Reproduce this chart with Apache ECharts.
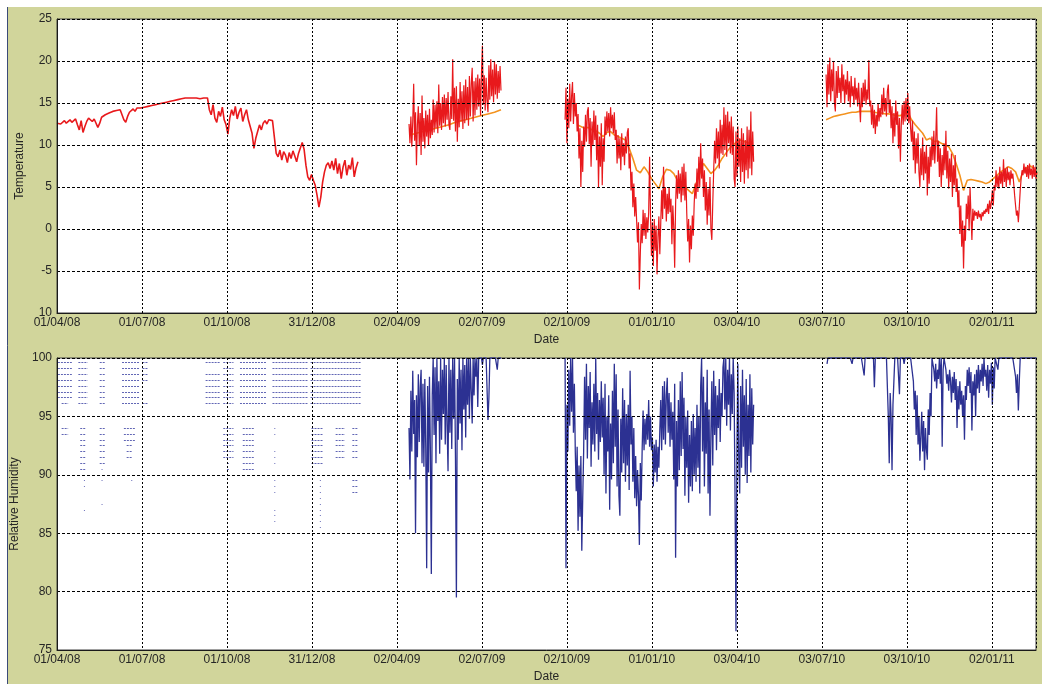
<!DOCTYPE html>
<html>
<head>
<meta charset="utf-8">
<script src="https://cdn.jsdelivr.net/npm/echarts@6/dist/echarts.min.js"></script>
<style>
  html, body { margin: 0; padding: 0; background: #ffffff; }
  #chart { width: 1042px; height: 684px; }
</style>
</head>
<body>
<div id="chart"></div>
<script>
// ---- Axis tick labels ----
// x values are days counted from 01/04/08; a tick every 91.5 days
const xTickLabels = ['01/04/08', '01/07/08', '01/10/08', '31/12/08', '02/04/09', '02/07/09',
                     '02/10/09', '01/01/10', '03/04/10', '03/07/10', '03/10/10', '02/01/11'];
const tempTickLabels = ['10', '-5', '0', '5', '10', '15', '20', '25'];
const rhTickLabels = ['75', '80', '85', '90', '95', '100'];

// ---- Temperature, logger record (red) ----
const tempRed1Start = 0, tempRed1Step = 2;
const tempRed1 = [12.6,12.8,12.5,12.7,12.9,12.6,12.8,13.0,12.7,12.9,13.1,
  12.4,11.8,12.9,11.5,12.2,12.8,13.2,
  13.0,12.8,13.1,12.9,12.1,12.6,13.3,
  13.4,13.6,13.5,13.8,13.9,14.0,13.8,14.1,14.0,14.2,14.3,
  13.0,12.7,13.4,13.9,14.1,14.3,14.0,14.4,14.2,14.4,
  14.5,14.5,14.6,14.6,14.7,14.7,14.8,14.8,14.9,14.9,15.0,15.0,15.1,15.1,15.2,15.2,15.3,
  15.3,15.4,15.4,15.5,15.5,15.5,15.6,15.6,15.6,15.6,15.6,15.5,15.6,15.6,15.5,15.6,15.6,15.5,15.6,
  14.2,13.6,14.8,13.2,12.7,14.0,13.4,14.5,13.0,12.4,11.3,13.2,
  14.2,13.5,14.6,13.1,13.9,14.4,12.8,13.6,14.2,13.0,12.2,11.4,
  9.6,10.8,11.6,12.4,11.8,12.6,12.9,12.5,13.0,12.8,12.9,12.7,
  9.0,8.6,9.4,8.2,9.2,8.8,7.9,9.1,8.4,9.3,8.7,8.0,9.0,9.2,
  10.3,9.5,7.6,6.2,5.8,6.5,5.8,5.2,4.0,2.6,3.8,5.6,6.8,7.6,7.9,7.2,8.1,
  7.0,8.4,6.6,7.8,6.0,7.4,8.2,6.4,7.6,7.1,8.5,6.2,7.3,8.0];

const tempRed2Start = 379, tempRed2Step = 1;
const tempRed2 = [12.5,10.2,13.4,9.8,12.8,17.3,10.5,13.9,7.6,12.4,
  14.6,9.9,13.8,8.8,15.9,10.4,13.2,9.6,14.1,11.0,
  13.6,9.9,14.3,10.8,13.0,11.2,15.4,11.5,14.8,12.0,
  15.2,11.4,17.2,12.3,15.0,11.8,15.7,12.6,16.0,12.2,
  15.6,13.0,16.3,12.4,11.8,15.8,13.1,20.2,12.9,16.8,
  11.6,17.0,10.4,15.5,12.1,17.5,12.8,16.4,11.9,17.1,
  12.6,17.8,13.0,16.9,12.3,18.2,13.4,17.3,19.2,12.8,
  17.6,13.5,18.0,14.2,18.4,14.6,17.9,13.5,18.6,21.8,
  14.8,18.3,14.1,18.0,15.2,13.9,19.5,15.4,20.2,15.8,
  19.0,15.1,20.0,16.0,19.6,15.5,18.8,16.2,19.4,16.5];

const tempRed3Start = 547, tempRed3Step = 1;
const tempRed3 = [13.0,16.8,10.2,15.5,12.0,17.3,12.8,15.8,17.5,12.5,
  16.2,13.4,15.0,11.6,13.7,8.4,12.0,5.0,10.5,6.8,
  12.2,9.8,13.6,10.4,14.0,14.5,10.1,13.2,7.4,12.8,
  9.9,14.1,10.6,13.5,8.2,12.4,5.0,11.0,7.4,12.6,
  5.2,10.8,8.0,13.4,11.2,14.0,11.6,13.8,11.0,14.5,
  12.0,13.6,11.4,13.9,10.6,11.8,7.8,11.2,8.4,10.8,
  7.0,11.4,8.6,10.2,7.6,11.0,9.0,11.5,12.0,7.2,
  9.0,4.6,6.8,2.6,5.4,1.5,3.8,1.1,-1.6,0.8,
  -7.2,-2.9,0.6,-1.7,2.3,-0.8,1.9,-1.2,1.4,-0.4,
  2.0,8.6,1.5,-3.2,0.8,-4.4,1.2,-2.6,0.4,-5.4,
  -1.0,1.5,-3.0,0.7,4.6,1.2,7.4,2.4,5.0,0.9,
  4.2,1.8,5.0,2.0,3.6,-1.8,2.8,0.2,-4.6,3.0,
  6.4,3.6,7.0,4.2,6.6,3.2,7.4,4.0,7.8,3.4,
  6.8,1.9,-1.5,1.2,-4.0,0.4,-2.4,1.6,-0.8,3.0,
  5.4,3.6,7.2,4.4,8.6,5.0,10.2,6.0,8.4,3.8,
  7.0,2.2,5.6,0.5,4.8,1.6,6.2,0.0,-1.3,3.0,
  7.0,10.5,7.8,12.0,8.4,11.6,7.2,13.0,9.0,12.4,
  8.8,14.5,9.4,13.6,8.6,14.0,10.2,12.8,9.0,13.4,
  8.8,12.2,6.0,5.0,11.6,6.2,12.2,7.4,10.8,5.6,
  12.0,6.8,11.4,5.4,10.6,7.0,12.2,6.0,11.8,7.2,
  14.0,6.4,11.6,8.0];

const tempRed4Start = 828, tempRed4Step = 1;
const tempRed4 = [18.4,14.5,19.6,16.0,20.4,15.2,19.0,16.4,20.0,15.0,
  14.0,18.8,15.6,19.4,16.2,18.0,15.0,19.6,16.4,18.4,
  14.9,17.8,16.0,18.8,15.2,17.6,14.5,18.2,15.8,17.0,
  14.8,18.0,15.4,16.8,14.6,17.4,15.0,12.7,16.8,14.5,
  17.4,15.2,17.8,14.8,16.6,15.4,20.1,14.6,15.3,12.4,
  14.8,12.0,14.2,11.3,13.6,12.2,15.0,12.8,14.4,13.3,
  16.0,13.6,16.8,14.0,15.6,13.4,16.4,17.2,13.8,15.4,
  12.0,14.6,10.2,13.8,11.0,15.3,12.4,14.0,9.6,13.2,
  8.0,12.6,14.8,12.4,15.2,12.8,15.6,13.0,16.2,12.6,
  14.6,12.0,10.4,12.9,8.2,11.6,6.6,10.8,7.8,11.4,
  6.8,5.0,9.6,6.4,10.9,5.8,9.2,6.6,10.0,4.0,
  8.6,5.4,9.8,7.4,11.0,8.2,11.7,7.8,10.4,14.5,
  8.0,10.5,6.2,9.6,5.0,8.8,6.4,10.2,7.0,11.7,
  6.0,9.3,4.8,8.4,5.6,9.0,3.8,7.6,5.2,8.8,
  4.4,6.0,2.6,4.6,-0.6,2.8,-2.1,1.0,-4.7,0.4,
  -1.4,3.0,1.2,4.0,-0.2,5.0,1.6,-1.3,2.4,1.0,
  2.2,1.6,2.0,1.2,2.2,1.4,1.8,1.0,2.0,1.5,
  2.2,1.8,2.4,2.0,3.0,1.8,3.4,2.4,3.2,4.6,
  2.8,5.2,4.6,7.0,5.0,6.4,4.8,7.4,5.4,6.8,
  5.0,8.3,5.6,7.2,5.0,7.4,5.8,6.8,5.2,7.0,
  6.0,6.6,5.4,4.0,2.8,1.6,2.2,0.8,2.6,4.6,
  6.0,7.0,6.4,7.8,6.6,7.4,6.2,7.6,6.0,7.8,
  6.4,7.2,6.0,7.6,6.2,7.4,6.0,6.8];

// ---- Temperature, reference record (orange) ----
const tempOrange2Start = 380, tempOrange2Step = 7;
const tempOrange2 = [11.2,11.4,11.6,11.8,12.0,12.2,12.4,12.7,12.9,13.1,13.3,13.5,13.7,13.9,14.2];
const tempOrange3Start = 560, tempOrange3Step = 4;
const tempOrange3 = [12.4,12.2,12.0,12.1,11.8,11.7,11.4,11.0,11.5,11.6,11.2,11.0,10.8,10.6,9.6,
  8.4,7.0,6.7,7.4,6.8,6.0,5.4,4.8,6.2,7.1,7.0,6.6,5.8,5.4,5.0,4.6,4.2,5.4,6.6,7.8,7.2,6.6,7.0,
  7.6,8.4,9.0,9.6,10.0,10.4,10.6,10.4,10.3,10.2];
const tempOrange4Start = 828, tempOrange4Step = 4;
const tempOrange4 = [13.0,13.2,13.4,13.5,13.6,13.7,13.8,13.9,13.9,14.0,14.0,14.0,14.0,13.9,13.8,
  13.8,13.7,13.7,13.6,13.5,13.5,13.7,13.9,13.0,12.4,11.9,11.4,10.6,10.8,10.4,10.5,10.2,10.0,9.8,
  9.0,7.8,6.4,4.6,5.8,5.9,5.8,5.7,5.6,5.4,5.6,6.0,6.4,6.8,7.1,7.4,7.2,6.8,5.6,6.8,7.3,7.5,7.2];

// ---- Relative humidity, first season: runs of equal readings [firstDay, lastDay, readings] ----
const rhRunGroups = [
  [1, 16, [99.6, 99.1, 98.6, 98.1, 97.6, 97.1, 96.6]],
  [5, 12, [96.1, 94.0, 93.5]],
  [23, 33, [99.6, 99.1, 98.6, 98.1, 97.6, 97.1, 96.6, 96.1]],
  [25, 31, [94.0, 93.5, 93.0, 92.5, 92.0, 91.5, 91.0, 90.5]],
  [29, 30, [89.5, 89.0, 87.0]],
  [46, 52, [99.6, 99.1, 98.6, 98.1, 97.6, 97.1, 96.6, 96.1, 94.0, 93.5, 93.0, 92.5, 92.0, 91.5, 91.0]],
  [48, 49, [90.5, 89.5, 87.5]],
  [70, 89, [99.6, 99.1, 98.6, 98.1, 97.6, 97.1, 96.6, 96.1]],
  [72, 84, [94.0, 93.5, 93.0]],
  [75, 81, [92.5, 92.0, 91.5]],
  [80, 81, [89.5]],
  [92, 98, [99.6, 99.1, 98.6, 98.1, 96.1]],
  [160, 176, [99.6, 98.6, 98.1, 97.6, 97.1, 96.6, 96.1]],
  [179, 190, [99.6, 99.1, 98.6, 98.1, 97.6, 97.1, 96.6, 96.1, 94.0, 93.5, 93.0, 92.5, 92.0, 91.5]],
  [183, 185, [91.0, 90.5]],
  [197, 226, [99.6, 99.1, 98.6, 98.1, 97.6, 97.1, 96.6, 96.1]],
  [200, 212, [94.0, 93.5, 93.0, 92.5, 92.0, 91.5, 91.0, 90.5]],
  [232, 270, [99.6, 99.1, 98.6, 98.1, 97.6, 97.1, 96.6, 96.1]],
  [234, 235, [94.0, 93.5, 92.0, 91.5, 91.0, 89.5, 89.0, 88.5, 87.0, 86.5, 86.0]],
  [273, 327, [99.6, 99.1, 98.6, 98.1, 97.6, 97.1, 96.6, 96.1]],
  [274, 286, [94.0, 93.5, 93.0, 92.5, 92.0, 91.5, 91.0]],
  [283, 284, [89.5, 89.0, 88.5, 88.0, 87.5, 87.0, 86.5, 86.0, 85.5]],
  [300, 310, [94.0, 93.5, 93.0, 92.5, 92.0, 91.5]],
  [318, 324, [94.0, 93.5, 93.0, 92.5, 92.0, 91.5, 89.5, 89.0, 88.5]]
];

// ---- Relative humidity, daily series ----
const rh2Start = 379;
const rh2 = [94.0,89.6,97.2,92.0,98.9,93.5,96.4,85.0,96.8,91.5,
  98.6,92.8,97.5,99.0,91.0,97.8,90.7,98.2,92.4,82.0,
  97.6,90.2,98.4,92.0,81.5,96.8,100,93.4,99.2,91.0,
  100,94.6,98.0,91.8,100,93.0,99.0,95.2,100,92.6,
  99.4,94.2,90.3,100,93.6,99.0,92.2,100,94.8,100,
  91.4,79.5,98.2,93.0,100,94.4,99.0,92.1,100,95.6,
  99.4,93.2,100,96.0,100,94.8,100,97.2,94.4,100,
  96.8,100,98.4,100,95.8,100,100,100,100,99.4,
  100,100,100,100,100,94.7,96.6,100,100,100,
  100,100,100,100,100,99.0,100,100,100,100];

const rh3Start = 547;
const rh3 = [100,82.0,96.0,92.0,99.0,94.2,100,95.4,100,93.6,
  97.8,92.0,88.6,92.4,85.2,90.8,86.4,91.6,83.5,88.0,
  92.0,98.4,93.0,99.5,91.4,97.6,94.0,98.8,90.7,96.2,
  92.6,97.8,92.0,100,93.5,97.0,91.3,96.4,92.8,98.0,
  93.2,96.6,90.0,97.8,88.4,95.0,92.0,96.8,87.0,94.4,
  89.6,97.2,91.0,99.5,92.4,98.6,89.0,95.6,88.2,86.5,
  94.8,90.2,97.4,91.0,96.4,89.4,95.2,90.8,96.0,88.7,
  98.9,92.6,95.0,89.4,94.0,88.0,91.6,87.3,90.4,88.2,
  84.0,91.0,87.8,92.2,95.5,92.1,94.8,92.6,95.2,93.0,
  96.4,92.4,95.0,92.1,93.2,89.0,92.6,90.2,93.0,89.4,
  92.4,90.6,93.8,96.4,92.1,97.6,93.0,98.0,92.6,96.8,
  98.3,93.6,97.0,92.4,96.2,93.0,95.4,89.6,97.8,82.9,
  94.6,89.0,96.4,90.4,98.0,91.6,98.8,92.2,96.6,88.2,
  95.0,90.6,95.5,87.6,93.4,89.0,94.6,88.6,95.2,90.0,
  94.0,89.4,96.0,90.6,95.0,88.4,97.6,100,92.0,98.4,
  89.0,96.2,91.8,99.0,88.4,95.6,86.5,93.6,98.0,90.8,
  98.9,93.4,97.6,92.1,96.8,94.0,98.2,92.8,97.0,95.0,
  99.2,100,95.6,100,94.2,99.0,96.0,100,93.8,98.6,
  95.2,100,97.0,88.0,76.6,92.0,99.5,91.2,88.4,97.6,
  90.6,99.0,92.4,96.8,90.0,98.2,89.3,96.0,91.6,98.6,
  90.2,97.4,92.6,96.0];

const rh4Start = 829;
const rh4 = [99.5,
  100,100,100,100,100,100,100,100,100,100,100,100,100,100,100,100,100,100,100,100,100,100,100,100,100,100,
  99.5,
  100,100,100,100,100,100,100,100,100,100,100,100,
  98.5,
  100,100,100,100,100,100,100,100,100,100,
  97.5,
  100,100,100,100,100,100,100,100,100,100,100,100,100,100,
  95.0,91.0,97.0,95.0,90.4,96.0,98.0,
  100,100,100,100,100,
  96.9,
  100,100,100,100,
  99.5,
  100,100,100,100,100,100,100,100,100,
  98.0,95.6,97.2,93.4,96.8,92.6,95.0,91.2,91.3,95.4,92.0,94.6,90.4,94.0,92.2,91.3,95.6,93.4,97.0,95.0,
  100,100,
  99.0,98.0,99.5,97.4,99.0,98.2,100,97.8,100,92.4,
  99.0,100,100,99.0,97.8,98.6,97.2,99.0,98.0,96.2,
  98.4,97.0,98.8,96.4,98.2,94.0,97.6,95.6,98.0,96.0,
  97.2,95.0,96.8,93.0,97.6,96.4,99.0,97.6,99.2,97.0,
  98.8,93.8,98.0,96.8,98.6,95.0,99.0,97.4,99.4,97.0,
  99.0,98.0,99.5,97.6,100,98.4,99.0,97.2,99.4,96.6,
  99.0,97.8,99.6,96.0,99.2,97.4,100,
  100,100,
  99.0,
  100,100,100,100,100,100,100,100,100,100,100,100,100,100,100,100,100,100,
  98.4,97.0,98.6,95.5,98.0,
  100,100,100,100,100,100,100,100,100,100,100,100,100,100,100,100,100,100,100];

// ---- Chart construction ----
const TICK_DAYS = 91.5;
const FONT = 'Liberation Sans, Arial, sans-serif';
const TEXT = '#262626';

function points(start, step, values) {
  return values.map((v, i) => [start + i * step, v]);
}

function lineSeries(gridIdx, data, color, width, z) {
  return {
    type: 'line', xAxisIndex: gridIdx, yAxisIndex: gridIdx,
    data: data, showSymbol: false, symbol: 'none', silent: true,
    clip: true, z: z, animation: false,
    lineStyle: { color: color, width: width }
  };
}

const RED = '#e8191c', ORANGE = '#f3931f', NAVY = '#2c3192';

const series = [];
[[tempOrange2Start, tempOrange2Step, tempOrange2],
 [tempOrange3Start, tempOrange3Step, tempOrange3], [tempOrange4Start, tempOrange4Step, tempOrange4]]
  .forEach(s => series.push(lineSeries(0, points(s[0], s[1], s[2]), ORANGE, 1.6, 2)));
series.push(lineSeries(0, points(tempRed1Start, tempRed1Step, tempRed1), RED, 1.6, 3));
[[tempRed2Start, tempRed2Step, tempRed2],
 [tempRed3Start, tempRed3Step, tempRed3], [tempRed4Start, tempRed4Step, tempRed4]]
  .forEach(s => series.push(lineSeries(0, points(s[0], s[1], s[2]), RED, 1.2, 3)));

// first-season humidity: short horizontal runs of repeated readings
const runs = [];
rhRunGroups.forEach(g => g[2].forEach(level => runs.push({ coords: [[g[0], level], [g[1], level]] })));
series.push({
  type: 'lines', coordinateSystem: 'cartesian2d', xAxisIndex: 1, yAxisIndex: 1,
  data: runs, silent: true, z: 3, animation: false,
  lineStyle: { color: '#3a40a2', width: 1, type: [2, 1], opacity: 0.8, curveness: 0 }
});
[[rh2Start, rh2], [rh3Start, rh3], [rh4Start, rh4]]
  .forEach(s => series.push(lineSeries(1, points(s[0], 1, s[1]), NAVY, 1.3, 3)));

function xAxisFor(gridIdx) {
  return {
    type: 'value', gridIndex: gridIdx, min: 0, max: 1054, interval: TICK_DAYS, z: 10,
    axisLine: { show: true, onZero: false, lineStyle: { color: '#1a1a1a', width: 1 } },
    axisTick: { show: false },
    splitLine: { show: true, lineStyle: { color: '#000000', width: 1, type: [2, 2] } },
    axisLabel: {
      color: TEXT, fontSize: 12, fontFamily: FONT, margin: 4,
      formatter: v => {
        const i = Math.round(v / TICK_DAYS);
        return Math.abs(v - i * TICK_DAYS) < 0.01 && xTickLabels[i] ? xTickLabels[i] : '';
      }
    },
    name: 'Date', nameLocation: 'middle', nameGap: 21,
    nameTextStyle: { color: TEXT, fontSize: 12, fontFamily: FONT }
  };
}

const option = {
  backgroundColor: '#d1d59b',
  animation: false,
  grid: [
    { left: 57, top: 19, width: 979, height: 294, show: true, backgroundColor: '#ffffff',
      borderColor: '#404040', borderWidth: 1 },
    { left: 57, top: 358, width: 979, height: 293, show: true, backgroundColor: '#ffffff',
      borderColor: '#404040', borderWidth: 1 }
  ],
  xAxis: [xAxisFor(0), xAxisFor(1)],
  yAxis: [
    {
      type: 'value', gridIndex: 0, min: -10, max: 25, interval: 5, z: 10,
      axisLine: { show: true, lineStyle: { color: '#1a1a1a', width: 1 } },
      axisTick: { show: false },
      splitLine: { show: true, lineStyle: { color: '#000000', width: 1, type: [3, 2] } },
      axisLabel: { color: TEXT, fontSize: 12, fontFamily: FONT, margin: 5,
        formatter: v => tempTickLabels[Math.round((v + 10) / 5)] },
      name: 'Temperature', nameLocation: 'middle', nameGap: 31,
      nameTextStyle: { color: TEXT, fontSize: 12, fontFamily: FONT }
    },
    {
      type: 'value', gridIndex: 1, min: 75, max: 100, interval: 5, z: 10,
      axisLine: { show: true, lineStyle: { color: '#1a1a1a', width: 1 } },
      axisTick: { show: false },
      splitLine: { show: true, lineStyle: { color: '#000000', width: 1, type: [3, 2] } },
      axisLabel: { color: TEXT, fontSize: 12, fontFamily: FONT, margin: 5,
        formatter: v => rhTickLabels[Math.round((v - 75) / 5)] },
      name: 'Relative Humidity', nameLocation: 'middle', nameGap: 31,
      nameTextStyle: { color: TEXT, fontSize: 12, fontFamily: FONT }
    }
  ],
  graphic: [
    { type: 'rect', shape: { x: 0, y: 0, width: 1042, height: 7 }, style: { fill: '#ffffff' }, silent: true },
    { type: 'rect', shape: { x: 0, y: 0, width: 7, height: 684 }, style: { fill: '#ffffff' }, silent: true },
    { type: 'line', shape: { x1: 7.5, y1: 7, x2: 7.5, y2: 684 }, style: { stroke: '#3b4a78', lineWidth: 1 }, silent: true }
  ],
  series: series
};

const chart = echarts.init(document.getElementById('chart'), null, { renderer: 'canvas' });
chart.setOption(option);
</script>
</body>
</html>
